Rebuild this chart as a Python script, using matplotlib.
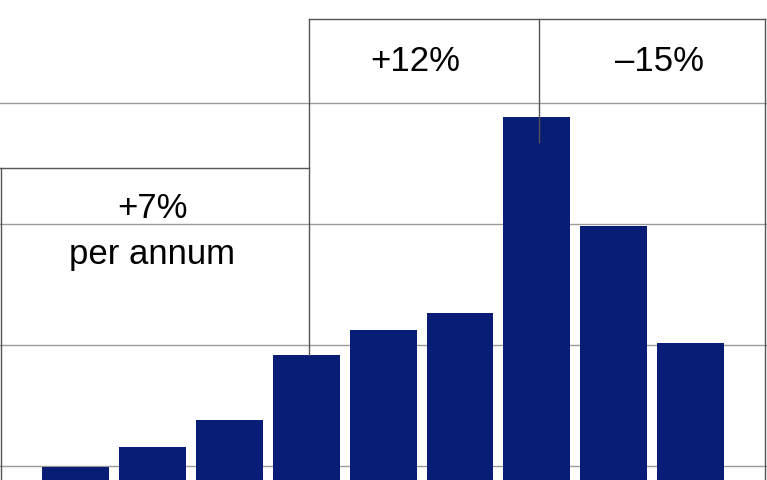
import numpy as np
import matplotlib.pyplot as plt

# bar values (arbitrary units, gridlines every 10)
values = [9.9, 11.6, 13.8, 19.2, 21.2, 22.6, 38.8, 29.8, 20.2]
grid_vals = [10, 20, 30, 40]
labels = ['+12%', '\u201315%']

plt.rcParams['font.family'] = ['Liberation Sans', 'DejaVu Sans']

fig = plt.figure(figsize=(7.67, 4.8), dpi=100)
ax = fig.add_axes([0, 0, 1, 1])

x = np.arange(len(values))
ax.set_xlim(-0.982, 8.992)
ax.set_ylim(8.84, 48.5)

for g in grid_vals:
    ax.axhline(g, color='#9a9a9a', lw=1.0, zorder=1)

ax.bar(x, values, width=0.87, color='#071d76', zorder=2)

# brackets
lc = '#555555'
ax.plot([-0.975, -0.975], [8.84, 34.6], color=lc, lw=1, zorder=3)
ax.plot([-0.98, 3.036], [34.6, 34.6], color=lc, lw=1, zorder=3)
ax.plot([3.036, 3.036], [values[3], 46.9], color=lc, lw=1, zorder=3)
ax.plot([3.036, 8.966], [46.9, 46.9], color=lc, lw=1, zorder=3)
ax.plot([6.027, 6.027], [36.8, 46.9], color=lc, lw=1, zorder=3)
ax.plot([8.966, 8.966], [8.84, 46.9], color=lc, lw=1, zorder=3)

ax.text(4.42, 42.64, labels[0], ha='center', va='baseline', fontsize=25)
ax.text(7.59, 42.64, labels[1], ha='center', va='baseline', fontsize=25)
ax.text(1.0, 30.5, '+7%', ha='center', va='baseline', fontsize=25)
ax.text(1.0, 26.7, 'per annum', ha='center', va='baseline', fontsize=25)

ax.axis('off')
fig.savefig('out.png', dpi=100)
